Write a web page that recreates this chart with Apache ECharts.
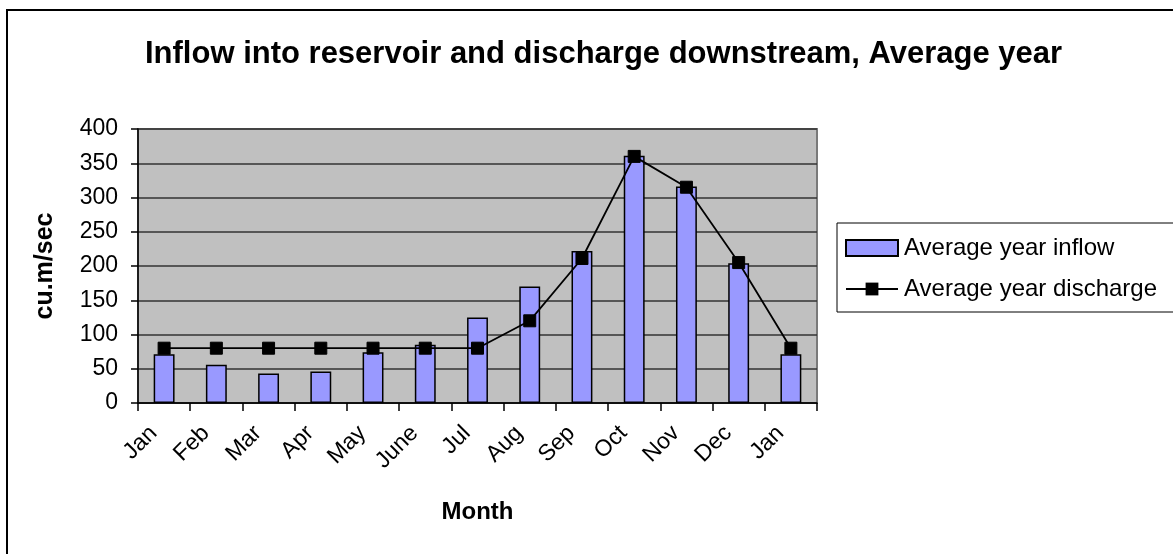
<!DOCTYPE html>
<html>
<head>
<meta charset="utf-8">
<script src="https://cdn.jsdelivr.net/npm/echarts@6/dist/echarts.min.js"></script>
<style>
  html, body { margin: 0; padding: 0; background: #ffffff; }
  #chart { width: 1173px; height: 554px; }
</style>
</head>
<body>
<div id="chart"></div>
<script>
// Monthly categories (the cycle closes on the following January)
const months = ['Jan', 'Feb', 'Mar', 'Apr', 'May', 'June', 'Jul', 'Aug', 'Sep', 'Oct', 'Nov', 'Dec', 'Jan'];
// Average year inflow into the reservoir, cu.m/sec
const inflow = [71, 56, 43, 46, 74, 85, 125, 170, 222, 361, 316, 204, 71];
// Average year discharge downstream, cu.m/sec
const discharge = [80, 80, 80, 80, 80, 80, 80, 120, 211, 360, 315, 205, 80];
// Value axis range
const yMin = 0, yMax = 400, yStep = 50;

const FONT = 'Arial, "Liberation Sans", sans-serif';

const chart = echarts.init(document.getElementById('chart'), null, { renderer: 'canvas' });

chart.setOption({
  backgroundColor: '#ffffff',
  animation: false,
  title: {
    text: 'Inflow into reservoir and discharge downstream, Average year',
    left: 140,
    top: 34,
    textStyle: { fontFamily: FONT, fontSize: 31, fontWeight: 'bold', color: '#000' }
  },
  graphic: [
    {
      type: 'rect',
      silent: true,
      shape: { x: 7, y: 10, width: 1200, height: 600 },
      style: { fill: null, stroke: '#000', lineWidth: 2 },
      z: 0
    }
  ],
  legend: {
    orient: 'vertical',
    left: 837,
    top: 223,
    width: 340,
    padding: [13, 20, 11, 8],
    itemGap: 17,
    itemWidth: 52,
    itemHeight: 16,
    borderColor: '#000',
    borderWidth: 1,
    backgroundColor: '#fff',
    textStyle: { fontFamily: FONT, fontSize: 24, color: '#000', padding: [0, 0, 0, 1] },
    data: [
      { name: 'Average year inflow', icon: 'rect' },
      { name: 'Average year discharge' }
    ]
  },
  grid: {
    left: 138,
    right: 356,
    top: 129,
    bottom: 151,
    show: true,
    backgroundColor: '#c0c0c0',
    borderColor: '#7a7a7a',
    borderWidth: 2
  },
  xAxis: {
    type: 'category',
    data: months,
    boundaryGap: true,
    name: 'Month',
    nameLocation: 'middle',
    nameGap: 97,
    nameTextStyle: { fontFamily: FONT, fontSize: 24, fontWeight: 'bold', color: '#000' },
    axisLine: { show: true, lineStyle: { color: '#000', width: 1.5 } },
    axisTick: { show: true, length: 8, lineStyle: { color: '#000', width: 1.5 } },
    axisLabel: {
      rotate: 45,
      margin: 16,
      interval: 0,
      padding: [0, 15, 0, 0],
      fontFamily: FONT,
      fontSize: 23,
      color: '#000'
    }
  },
  yAxis: {
    type: 'value',
    min: yMin,
    max: yMax,
    interval: yStep,
    name: 'cu.m/sec',
    nameLocation: 'middle',
    nameGap: 80,
    nameRotate: 90,
    nameTextStyle: { fontFamily: FONT, fontSize: 25, fontWeight: 'bold', color: '#000' },
    axisLine: { show: true, lineStyle: { color: '#000', width: 1.5 } },
    axisTick: { show: true, length: 7, lineStyle: { color: '#000', width: 1.5 } },
    axisLabel: { margin: 20, fontFamily: FONT, fontSize: 23, color: '#000' },
    splitLine: { show: true, lineStyle: { color: '#333', width: 1.5 } }
  },
  series: [
    {
      name: 'Average year inflow',
      type: 'bar',
      data: inflow,
      barWidth: '40%',
      itemStyle: { color: '#9999ff', borderColor: '#000', borderWidth: 1.5 },
      z: 2
    },
    {
      name: 'Average year discharge',
      type: 'line',
      data: discharge,
      symbol: 'rect',
      symbolSize: 12,
      lineStyle: { color: '#000', width: 1.8 },
      itemStyle: { color: '#000', borderColor: '#000' },
      z: 3
    }
  ]
});
</script>
</body>
</html>
